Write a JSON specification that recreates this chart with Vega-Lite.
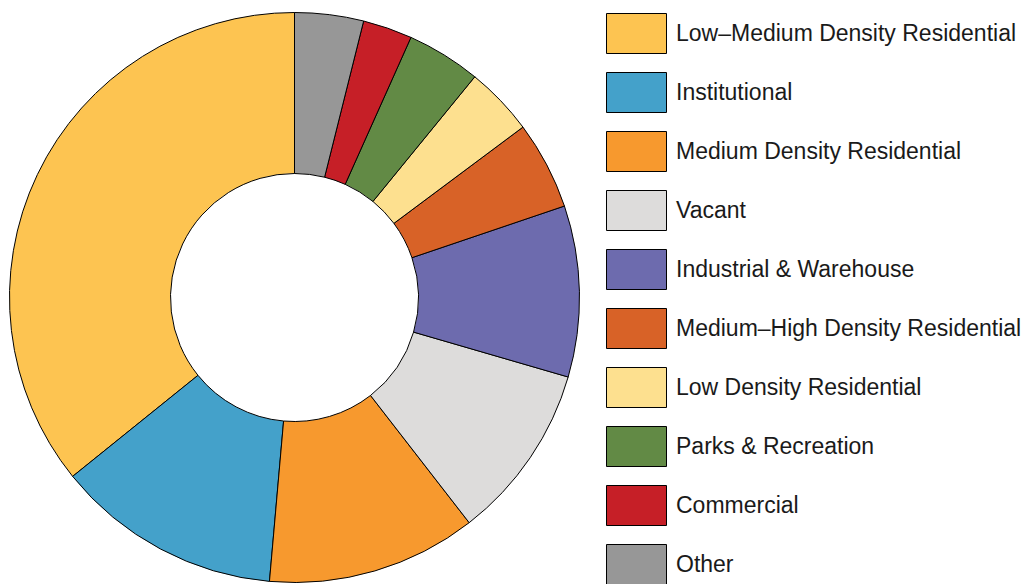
{
  "$schema": "https://vega.github.io/schema/vega-lite/v6.json",
  "width": 589,
  "height": 585,
  "padding": {"left": 0, "top": 5, "right": 0, "bottom": 0},
  "background": "white",
  "config": {"view": {"stroke": null}},
  "data": {
    "values": [
      {"category": "Low–Medium Density Residential", "share": 35.8, "rank": 1},
      {"category": "Institutional", "share": 12.8, "rank": 2},
      {"category": "Medium Density Residential", "share": 11.9, "rank": 3},
      {"category": "Vacant", "share": 10.0, "rank": 4},
      {"category": "Industrial & Warehouse", "share": 9.7, "rank": 5},
      {"category": "Medium–High Density Residential", "share": 5.0, "rank": 6},
      {"category": "Low Density Residential", "share": 3.9, "rank": 7},
      {"category": "Parks & Recreation", "share": 4.2, "rank": 8},
      {"category": "Commercial", "share": 2.8, "rank": 9},
      {"category": "Other", "share": 3.9, "rank": 10}
    ]
  },
  "mark": {"type": "arc", "outerRadius": 285, "innerRadius": 124, "stroke": "#000000", "strokeWidth": 1},
  "encoding": {
    "theta": {"field": "share", "type": "quantitative", "stack": true},
    "order": {"field": "rank", "sort": "descending"},
    "color": {
      "field": "category",
      "type": "nominal",
      "scale": {
        "domain": ["Low–Medium Density Residential", "Institutional", "Medium Density Residential", "Vacant", "Industrial & Warehouse", "Medium–High Density Residential", "Low Density Residential", "Parks & Recreation", "Commercial", "Other"],
        "range": ["#FDC451", "#44A1CA", "#F7992E", "#DDDCDB", "#6D6BAE", "#D86227", "#FDE08F", "#628A45", "#C61F27", "#979797"]
      },
      "legend": {
        "title": null,
        "orient": "none",
        "legendX": 616,
        "legendY": 8,
        "padding": 0,
        "symbolType": "M-1.5,-1H1.5V1H-1.5Z",
        "symbolSize": 1600,
        "symbolStrokeColor": "#000000",
        "symbolStrokeWidth": 1,
        "symbolOpacity": 1,
        "rowPadding": 14,
        "labelOffset": 19,
        "labelFont": "Liberation Sans",
        "labelFontSize": 23,
        "labelColor": "#1a1a1a",
        "labelLimit": 500
      }
    }
  }
}
